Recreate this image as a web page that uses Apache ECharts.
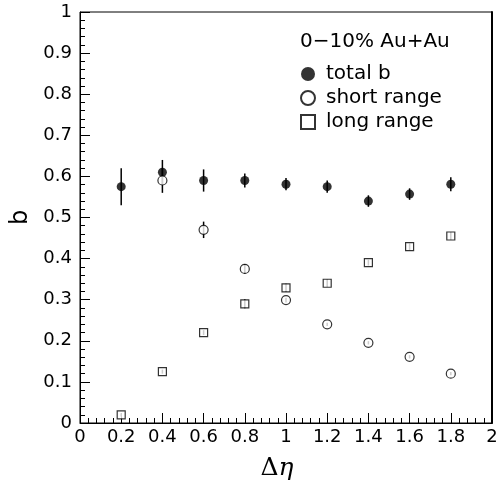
<!DOCTYPE html>
<html>
<head>
<meta charset="utf-8">
<script src="https://cdn.jsdelivr.net/npm/echarts@6/dist/echarts.min.js"></script>
<style>
  html, body { margin: 0; padding: 0; background: #fff; }
  #chart { width: 500px; height: 480px; }
</style>
</head>
<body>
<div id="chart"></div>
<script>
// delta eta bins
const deta = [0.2, 0.4, 0.6, 0.8, 1.0, 1.2, 1.4, 1.6, 1.8];

const totalB = [0.575, 0.61, 0.59, 0.59, 0.581, 0.575, 0.54, 0.557, 0.581];
const totalErr = [0.045, 0.03, 0.027, 0.017, 0.015, 0.015, 0.014, 0.014, 0.017];

// no short range point at 0.2
const shortB = [null, 0.59, 0.47, 0.375, 0.299, 0.24, 0.195, 0.161, 0.12];
const shortErr = [null, 0.03, 0.02, 0.012, 0.006, 0.004, 0.004, 0.004, 0.004];

const longB = [0.02, 0.125, 0.22, 0.29, 0.329, 0.34, 0.39, 0.429, 0.455];
const longErr = [0.004, 0.005, 0.006, 0.011, 0.01, 0.009, 0.007, 0.008, 0.01];

const xTicks = ['0', '0.2', '0.4', '0.6', '0.8', '1', '1.2', '1.4', '1.6', '1.8', '2'];

const FONT = 'DejaVu Sans';

function pts(vals) {
  const out = [];
  vals.forEach((v, i) => { if (v != null) out.push([deta[i], v]); });
  return out;
}

// [x, low, high] for the error bars
const errData = [];
[[totalB, totalErr], [shortB, shortErr], [longB, longErr]].forEach(([v, e]) => {
  v.forEach((y, i) => {
    if (y != null) errData.push([deta[i], y - e[i], y + e[i]]);
  });
});

const chart = echarts.init(document.getElementById('chart'));

chart.setOption({
  animation: false,
  backgroundColor: '#fff',
  grid: {
    left: 80, right: 8, top: 12, bottom: 57,
    outerBoundsMode: 'none', containLabel: false,
    show: true, borderColor: '#000', borderWidth: 1
  },
  xAxis: {
    type: 'value', min: 0, max: 2, interval: 0.2,
    name: '{a|Δ}{b|η}',
    nameLocation: 'middle', nameGap: 33,
    nameTextStyle: {
      padding: [0, 18, 0, 0],
      rich: {
        a: { fontFamily: 'DejaVu Serif', fontSize: 25, color: '#000' },
        b: { fontFamily: 'DejaVu Serif', fontStyle: 'italic', fontSize: 25, color: '#000' }
      }
    },
    axisLine: { lineStyle: { color: '#000', width: 1 } },
    axisTick: { inside: true, length: 10, lineStyle: { color: '#000' } },
    minorTick: { show: true, splitNumber: 5, length: 5, lineStyle: { color: '#000' } },
    splitLine: { show: false },
    axisLabel: {
      fontFamily: FONT, fontSize: 18, color: '#000', margin: 5,
      formatter: (v) => xTicks[Math.round(v / 0.2)]
    }
  },
  yAxis: [{
    type: 'value', min: 0, max: 1, interval: 0.1,
    name: 'b', nameLocation: 'middle', nameGap: 45,
    nameTextStyle: { fontFamily: FONT, fontSize: 24, color: '#000' },
    axisLine: { lineStyle: { color: '#000', width: 1 } },
    axisTick: { inside: true, length: 10, lineStyle: { color: '#000' } },
    minorTick: { show: true, splitNumber: 5, length: 5, lineStyle: { color: '#000' } },
    splitLine: { show: false },
    axisLabel: { fontFamily: FONT, fontSize: 18, color: '#000', margin: 8 }
  }, {
    type: 'value', min: 0, max: 1, position: 'right',
    axisLine: { show: true, lineStyle: { color: '#000', width: 2 } },
    axisTick: { show: false }, axisLabel: { show: false }, splitLine: { show: false }
  }],
  legend: {
    orient: 'vertical', left: 300, top: 64,
    itemWidth: 14, itemHeight: 14, itemGap: 4,
    padding: 0,
    textStyle: { fontFamily: FONT, fontSize: 20, color: '#000', padding: [0, 0, 0, 6] },
    data: ['total b', 'short range', 'long range']
  },
  graphic: [{
    type: 'text', left: 300, top: 32,
    style: { text: '0−10% Au+Au', font: '20px "DejaVu Sans"', fill: '#000' }
  }],
  series: [
    {
      type: 'custom', name: 'err', z: 1,
      data: errData,
      renderItem: (params, api) => {
        const lo = api.coord([api.value(0), api.value(1)]);
        const hi = api.coord([api.value(0), api.value(2)]);
        return {
          type: 'line',
          shape: { x1: lo[0], y1: lo[1], x2: hi[0], y2: hi[1] },
          style: { stroke: '#000', lineWidth: 1.5 }
        };
      }
    },
    {
      type: 'scatter', name: 'total b', z: 3,
      symbol: 'circle', symbolSize: 9,
      itemStyle: { color: '#000' },
      data: pts(totalB)
    },
    {
      type: 'scatter', name: 'short range', z: 3,
      symbol: 'circle', symbolSize: 9,
      itemStyle: { color: '#fff', borderColor: '#000', borderWidth: 1.2 },
      data: pts(shortB)
    },
    {
      type: 'scatter', name: 'long range', z: 3,
      symbol: 'rect', symbolSize: 8,
      itemStyle: { color: '#fff', borderColor: '#000', borderWidth: 1.2 },
      data: pts(longB)
    }
  ]
});
</script>
</body>
</html>
